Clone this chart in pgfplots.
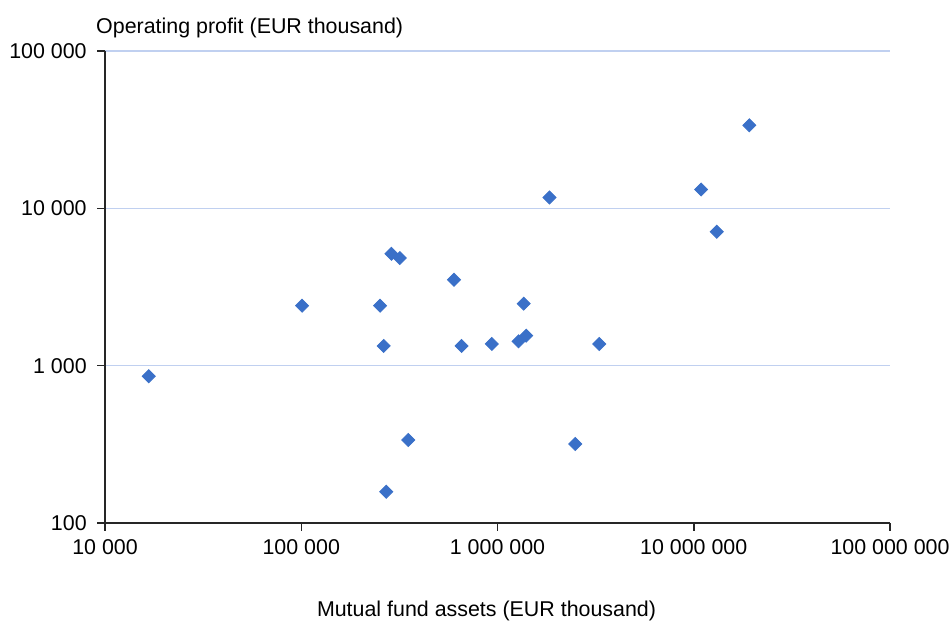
\documentclass[border=0pt]{standalone}
\usepackage{fontspec}
\setmainfont{Liberation Sans}
\usepackage{pgfplots}
\pgfplotsset{compat=1.18}
\definecolor{pts}{HTML}{3A70C8}
\definecolor{gridcol}{HTML}{C0D0F0}

\begin{document}
\fontsize{10.7}{12.8}\selectfont
\begin{tikzpicture}
\begin{axis}[name=ax,
  scale only axis,width=392.5pt,height=236pt,
  xmode=log,ymode=log,log basis x=10,log basis y=10,
  xmin=1e4,xmax=1e8,ymin=100,ymax=1e5,
  axis x line*=bottom,axis y line*=left,
  axis line style={black!85,line width=0.75pt},
  xtick={1e4,1e5,1e6,1e7,1e8},
  xticklabels={10 000,100 000,1 000 000,10 000 000,100 000 000},
  ytick={100,1000,10000,100000},
  yticklabels={100,1 000,10 000,100 000},
  minor tick num=0,
  tick align=outside,major tick length=4pt,
  tick style={black!85,line width=0.75pt},
  ymajorgrids,xmajorgrids=false,grid style={gridcol,line width=0.75pt},
  xticklabel style={inner sep=0pt,anchor=north,yshift=-4pt},
  yticklabel style={inner sep=0pt,anchor=east,xshift=-5pt},
  xlabel={Mutual fund assets (EUR thousand)},
  xlabel style={at={(rel axis cs:0.5,0)},anchor=north,inner sep=0pt,yshift=-39pt,xshift=-5.5pt},
  ylabel={Operating profit (EUR thousand)},
  ylabel style={rotate=-90,at={(rel axis cs:0,1)},anchor=south west,inner sep=0pt,yshift=6.5pt,xshift=-4.6pt},
  clip=false]
\addplot[only marks,mark=square*,mark size=2.3pt,mark options={rotate=45,fill=pts,draw=pts}]
coordinates {
(16700,857) (101000,2405) (252000,2405) (288000,5140) (318000,4830)
(600000,3515) (263000,1334) (656000,1334) (935000,1374) (351000,337)
(271000,158) (1360000,2478) (1280000,1429) (1400000,1550) (3300000,1374)
(1840000,11720) (2490000,318) (10900000,13180) (13100000,7100) (19200000,33700)
};
\end{axis}
\useasboundingbox ([xshift=-52.5pt,yshift=-49pt]ax.south west) rectangle ([xshift=30.5pt,yshift=25.5pt]ax.north east);
\end{tikzpicture}
\end{document}
